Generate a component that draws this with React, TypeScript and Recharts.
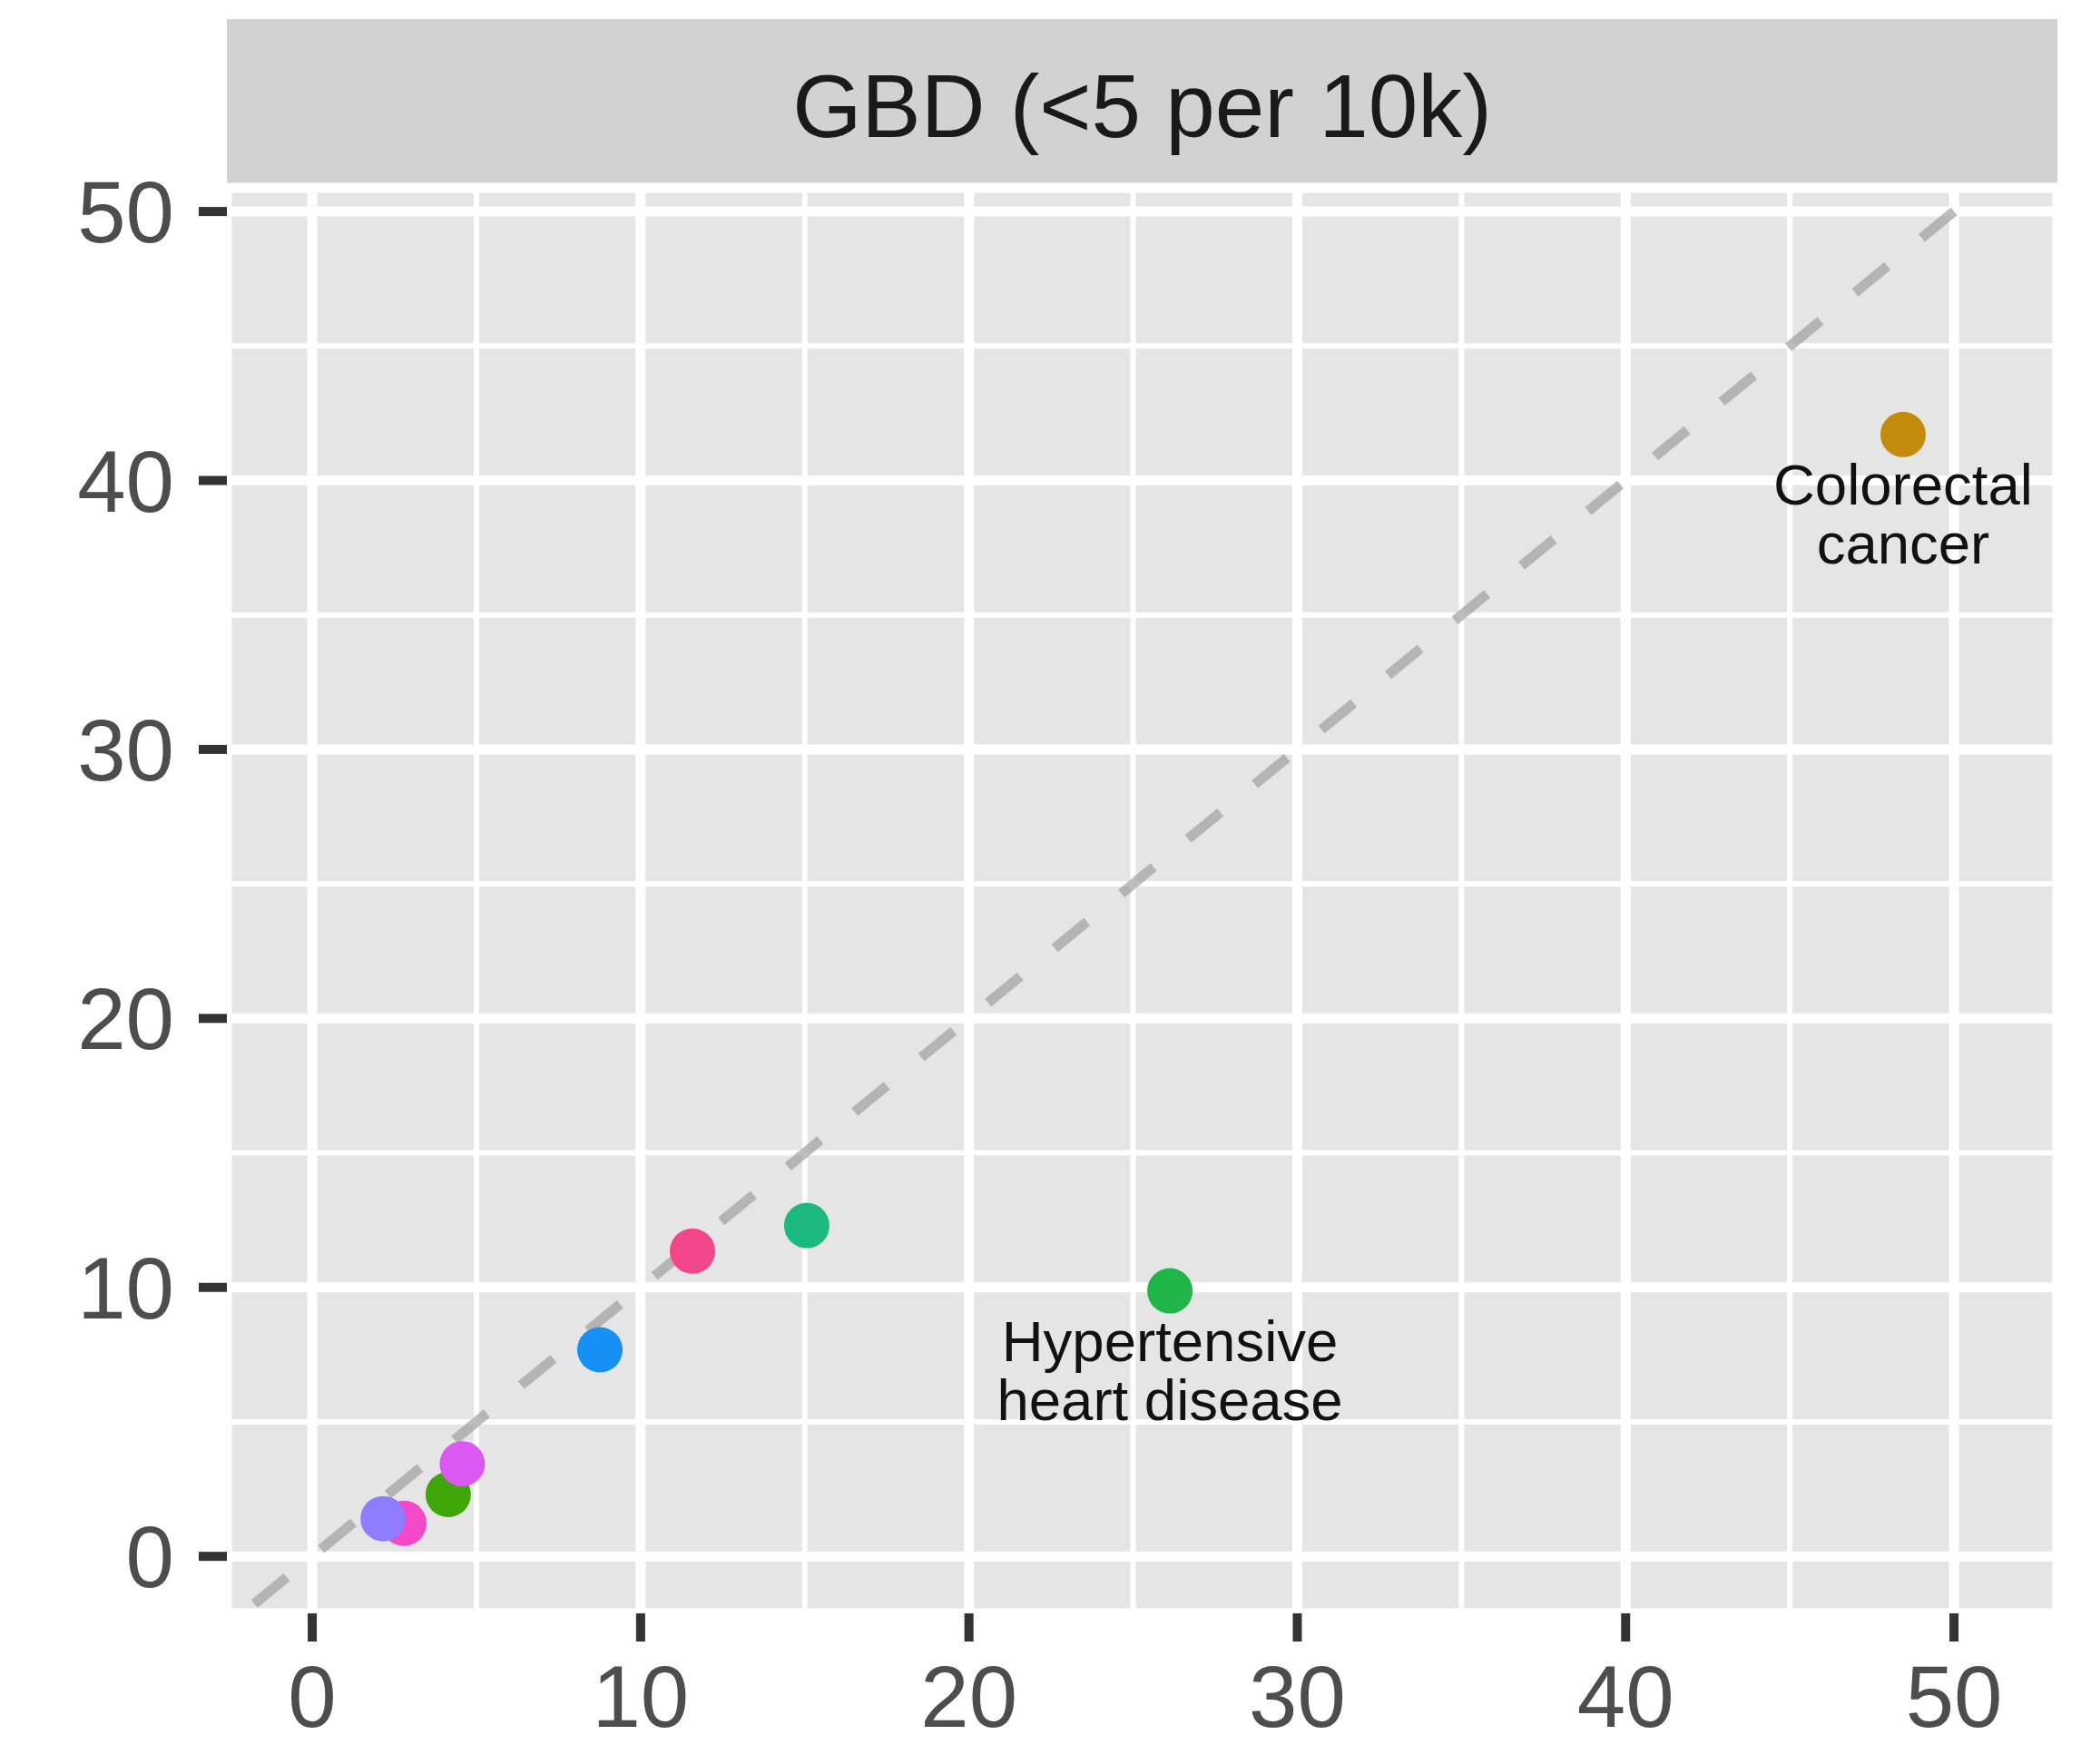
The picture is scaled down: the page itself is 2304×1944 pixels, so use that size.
import React from 'react';
import { ScatterChart, Scatter, XAxis, YAxis, CartesianGrid, ReferenceLine, Cell } from 'recharts';

// values (x = reference, y = estimate), per 10k
const LABELS = ['', '', '', '', '', '', 'Hypertensive\nheart disease', 'Colorectal\ncancer', ''];
const X_VALUES = [15.06, 11.58, 8.76, 2.79, 2.16, 4.14, 26.12, 48.45, 4.57];
const Y_VALUES = [12.3, 11.35, 7.68, 1.23, 1.4, 2.3, 9.87, 41.71, 3.44];
const COLORS = ['#1BB980', '#F2468C', '#1690F5', '#F548C8', '#8F7CFF', '#3FA60A', '#20B548', '#C48C0C', '#DC58F5'];

const MAJOR_TICKS = [0, 10, 20, 30, 40, 50];
const MINOR_TICKS = [5, 15, 25, 35, 45];
const IDENTITY_FROM = -1.8;
const IDENTITY_TO = 50;

const TITLE = 'GBD (<5 per 10k)';

const data = X_VALUES.map((x, i) => ({ x, y: Y_VALUES[i], label: LABELS[i] }));

const FONT = '"Liberation Sans", Arial, Helvetica, sans-serif';

const Dot = (props: any) => {
  const { cx, cy, fill, payload } = props;
  const lines: string[] = payload.label ? payload.label.split('\n') : [];
  return (
    <g>
      <circle cx={cx} cy={cy} r={25} fill={fill} />
      {lines.map((t, i) => (
        <text
          key={i}
          x={cx}
          y={cy + 77 + i * 65}
          textAnchor="middle"
          fontSize={63.5}
          fontFamily={FONT}
          fill="#111"
        >
          {t}
        </text>
      ))}
    </g>
  );
};

const tickStyle = { fontSize: 96, fill: '#4D4D4D', fontFamily: FONT };

export default function App() {
  return (
    <div style={{ position: 'absolute', left: 0, top: 0, width: 2304, height: 1944, background: '#fff' }}>
      <svg width={2304} height={210} style={{ position: 'absolute', left: 0, top: 0 }}>
        <rect x={250} y={21} width={2017} height={187} fill="#D2D2D2" />
        <text x={1258.5} y={151} textAnchor="middle" fontSize={98} fontFamily={FONT} fill="#1A1A1A">
          {TITLE}
        </text>
      </svg>
      <ScatterChart width={2304} height={1944} margin={{ top: 207, right: 37, bottom: 0, left: 0 }}>
        <CartesianGrid stroke="#FFFFFF" strokeWidth={11} fill="#E5E5E5" fillOpacity={1} />
        {MINOR_TICKS.map(v => (
          <ReferenceLine key={`mx${v}`} x={v} stroke="#FFFFFF" strokeWidth={6} />
        ))}
        {MINOR_TICKS.map(v => (
          <ReferenceLine key={`my${v}`} y={v} stroke="#FFFFFF" strokeWidth={6} />
        ))}
        <XAxis
          type="number"
          dataKey="x"
          domain={[-2.6, 53.15]}
          allowDataOverflow
          ticks={MAJOR_TICKS}
          axisLine={false}
          tickLine={{ stroke: '#333333', strokeWidth: 10 }}
          tickSize={31}
          tickMargin={26}
          height={166}
          tick={tickStyle}
        />
        <YAxis
          type="number"
          dataKey="y"
          domain={[-2.12, 50.88]}
          allowDataOverflow
          ticks={MAJOR_TICKS}
          axisLine={false}
          tickLine={{ stroke: '#333333', strokeWidth: 10 }}
          tickSize={31}
          tickMargin={27}
          width={250}
          tick={tickStyle}
        />
        <Scatter data={data} shape={Dot} isAnimationActive={false}>
          {data.map((d, i) => (
            <Cell key={i} fill={COLORS[i]} />
          ))}
        </Scatter>
        <ReferenceLine
          segment={[
            { x: IDENTITY_TO, y: IDENTITY_TO },
            { x: IDENTITY_FROM, y: IDENTITY_FROM },
          ]}
          stroke="#A0A0A0"
          strokeOpacity={0.7}
          strokeWidth={11}
          strokeDasharray="46 49"
        />
      </ScatterChart>
    </div>
  );
}
